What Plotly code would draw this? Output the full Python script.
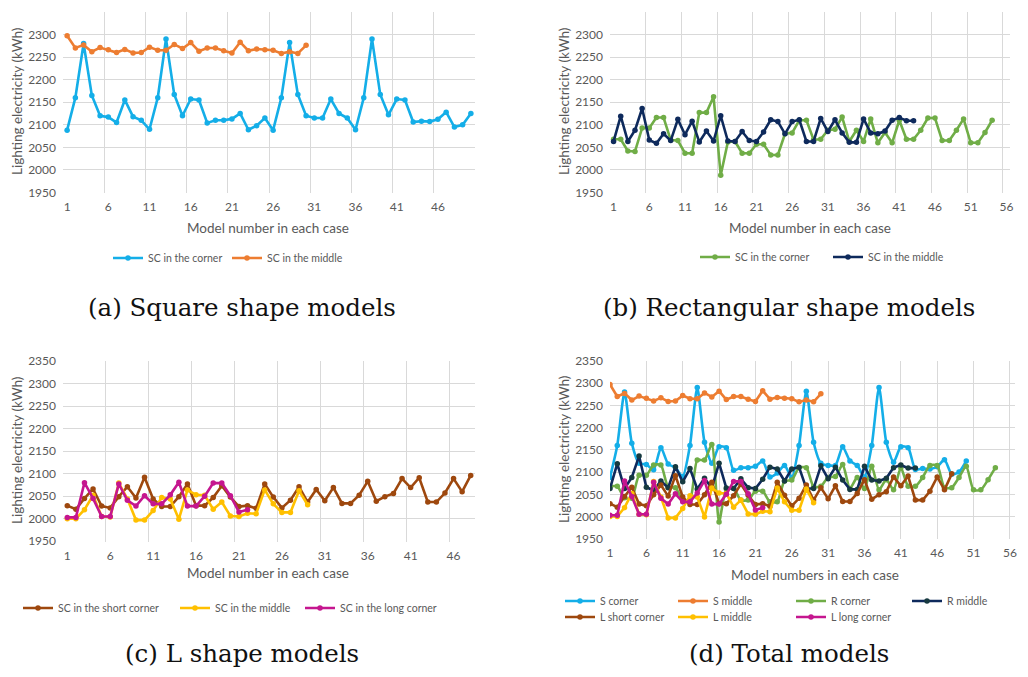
import plotly.graph_objects as go

# The page body has an 8px default margin, so the figure is drawn 8px in
# from the window edge; sizes and coordinates below compensate for that.
PAGE_OFF = 8
W, H = 1028 - 2 * PAGE_OFF, 677 - 2 * PAGE_OFF

# ---------------- data ----------------
square_corner = [2088, 2160, 2280, 2165, 2120, 2117, 2105, 2155, 2118, 2110,
                 2090, 2160, 2290, 2167, 2120, 2157, 2155, 2104, 2110, 2110,
                 2113, 2125, 2089, 2098, 2115, 2088, 2160, 2282, 2167, 2120,
                 2115, 2115, 2157, 2125, 2115, 2089, 2160, 2290, 2167, 2122,
                 2157, 2155, 2106, 2108, 2107, 2112, 2128, 2095, 2100, 2125]
square_middle = [2297, 2270, 2277, 2262, 2271, 2266, 2260, 2267, 2259, 2260,
                 2272, 2265, 2265, 2278, 2269, 2282, 2263, 2270, 2270, 2264,
                 2259, 2283, 2264, 2268, 2266, 2265, 2258, 2262, 2258, 2276]
rect_corner = [2068, 2068, 2042, 2041, 2093, 2093, 2116, 2116, 2066, 2065,
               2037, 2037, 2127, 2127, 2162, 1988, 2062, 2063, 2037, 2037,
               2057, 2057, 2033, 2033, 2080, 2082, 2110, 2110, 2067, 2068,
               2088, 2090, 2117, 2063, 2088, 2063, 2113, 2060, 2083, 2060,
               2110, 2068, 2068, 2088, 2115, 2115, 2065, 2065, 2088, 2113,
               2060, 2060, 2083, 2110]
rect_middle = [2063, 2119, 2063, 2088, 2136, 2066, 2059, 2080, 2065, 2112,
               2078, 2108, 2062, 2086, 2064, 2120, 2064, 2063, 2085, 2065,
               2063, 2084, 2111, 2107, 2080, 2107, 2111, 2063, 2063, 2114,
               2085, 2111, 2082, 2061, 2061, 2113, 2082, 2080, 2086, 2110,
               2116, 2109, 2109]
l_short_corner = [2029, 2021, 2045, 2066, 2028, 2024, 2049, 2071, 2046, 2092,
                  2044, 2027, 2027, 2049, 2077, 2029, 2029, 2047, 2073, 2048,
                  2027, 2029, 2023, 2077, 2048, 2024, 2041, 2071, 2037, 2065,
                  2040, 2069, 2034, 2034, 2052, 2083, 2039, 2049, 2056, 2089,
                  2069, 2091, 2037, 2037, 2057, 2089, 2060, 2096]
l_middle = [2000, 2000, 2020, 2052, 2005, 2004, 2079, 2044, 1997, 1997,
            2018, 2047, 2044, 1999, 2064, 2053, 2052, 2021, 2037, 2006,
            2005, 2012, 2011, 2064, 2033, 2014, 2014, 2062, 2031]
l_long_corner = [2003, 2003, 2080, 2045, 2005, 2005, 2077, 2041, 2028, 2051,
                 2033, 2033, 2053, 2081, 2028, 2028, 2050, 2079, 2079, 2051,
                 2015, 2020]

n_cat_a, n_cat_b, n_cat_c = 50, 56, 48
y_ticks = [1950, 2000, 2050, 2100, 2150, 2200, 2250, 2300, 2350]

# ---------------- styling ----------------
FONT = "Lato"
TXT = "#595959"
GRID = "#D9D9D9"
C_SC, C_SM = "#14AEE8", "#ED7D31"
C_RC, C_RM = "#70AD47", "#0E2A5C"
C_LS, C_LM, C_LL = "#9E480E", "#FFC000", "#C5168F"


def px(x):
    return (x - PAGE_OFF) / W


def py(y):
    return 1 - (y - PAGE_OFF) / H


fig = go.Figure()
legends = {}
legfont = dict(family=FONT, size=10.5, color=TXT)


def add(xa, ya, vals, name, color, text_x, text_y, shape="linear", mcolor=None):
    lid = "legend" if not legends else "legend%d" % (len(legends) + 1)
    legends[lid] = dict(x=px(text_x - 45), y=py(text_y), xanchor="left",
                        yanchor="middle", orientation="h", font=legfont,
                        bgcolor="rgba(0,0,0,0)", itemwidth=30)
    fig.add_trace(go.Scatter(
        x=list(range(1, len(vals) + 1)), y=vals, name=name, mode="lines+markers",
        line=dict(color=color, width=2.6, shape=shape, smoothing=0.6),
        marker=dict(color=mcolor or color, size=5.5),
        xaxis=xa, yaxis=ya, legend=lid))


# panel a
add("x", "y", square_corner, "SC in the corner", C_SC, 153, 258)
add("x", "y", square_middle, "SC in the middle", C_SM, 272, 258)
# panel b
add("x2", "y2", rect_corner, "SC in the corner", C_RC, 740, 257)
add("x2", "y2", rect_middle, "SC in the middle", C_RM, 873, 257)
# panel c
add("x3", "y3", l_short_corner, "SC in the short corner", C_LS, 63, 608)
add("x3", "y3", l_middle, "SC in the middle", C_LM, 220, 608)
add("x3", "y3", l_long_corner, "SC in the long corner", C_LL, 345, 608)
# panel d
add("x4", "y4", square_corner, "S corner", C_SC, 605, 601, shape="spline")
add("x4", "y4", square_middle, "S middle", C_SM, 718, 601)
add("x4", "y4", rect_corner, "R corner", C_RC, 836, 601, shape="spline")
add("x4", "y4", rect_middle, "R middle", C_RM, 952, 601, mcolor="#173A40")
add("x4", "y4", l_short_corner, "L short corner", C_LS, 605, 617)
add("x4", "y4", l_middle, "L middle", C_LM, 718, 617)
add("x4", "y4", l_long_corner, "L long corner", C_LL, 836, 617)

tickfont = dict(family=FONT, size=12, color=TXT)


def xcat(domain, anchor, n):
    return dict(domain=domain, anchor=anchor, range=[0.5, n + 0.5],
                tickmode="array", tickvals=list(range(1, n + 1, 5)),
                showgrid=False, zeroline=False, showline=False, ticks="",
                ticklabelstandoff=5, tickfont=tickfont,
                minor=dict(tickmode="array",
                           tickvals=[0.5 + 5 * k for k in range(n // 5 + 1)],
                           showgrid=True, gridcolor=GRID, gridwidth=1, ticks=""))


def yax(domain, anchor):
    return dict(domain=domain, anchor=anchor, range=[1949.5, 2350.5],
                tickmode="array", tickvals=y_ticks, showgrid=True,
                gridcolor=GRID, gridwidth=1, zeroline=False, showline=False,
                ticks="", ticklabelstandoff=6, tickfont=tickfont)


xa_dom_l = [px(63), px(475)]
xa_dom_r = [px(610), px(1010)]
ya_dom_t = [py(192.7), py(11.7)]
ya_dom_b = [py(541.5), py(360.7)]

fig.update_layout(
    width=W, height=H, margin=dict(l=0, r=0, t=0, b=0, autoexpand=False),
    paper_bgcolor="white", plot_bgcolor="white",
    xaxis=xcat(xa_dom_l, "y", n_cat_a),
    yaxis=yax(ya_dom_t, "x"),
    xaxis2=xcat(xa_dom_r, "y2", n_cat_b),
    yaxis2=yax(ya_dom_t, "x2"),
    xaxis3=xcat(xa_dom_l, "y3", n_cat_c),
    yaxis3=yax(ya_dom_b, "x3"),
    xaxis4=dict(domain=[px(610), px(1015)], anchor="y4", range=[1, 56.7],
                tickmode="array", tickvals=list(range(1, 57, 5)),
                showgrid=True, gridcolor=GRID, zeroline=False, showline=False,
                ticks="", ticklabelstandoff=5, tickfont=tickfont),
    yaxis4=yax([py(539), py(360.7)], "x4"),
    showlegend=True,
    **legends,
)

ann = []


def text(x, y, s, size, family=FONT, color=TXT, angle=0):
    ann.append(dict(x=px(x), y=py(y), xref="paper", yref="paper", text=s,
                    showarrow=False, textangle=angle,
                    font=dict(family=family, size=size, color=color),
                    xanchor="center", yanchor="middle"))


# axis titles
text(268, 228, "Model number in each case", 13.5)
text(810, 228, "Model number in each case", 13.5)
text(268, 573, "Model number in each case", 13.5)
text(815, 575, "Model numbers in each case", 13.5)
for xx, yy in [(17, 102), (564, 102), (17, 451), (564, 450)]:
    text(xx, yy, "Lighting electricity (kWh)", 13.5, angle=-90)

# captions
SERIF = "DejaVu Serif"
CAP = "#111111"
text(242, 307, "(a) Square shape models", 24.5, family=SERIF, color=CAP)
text(789, 307, "(b) Rectangular shape models", 24.5, family=SERIF, color=CAP)
text(242, 653, "(c) L shape models", 24.5, family=SERIF, color=CAP)
text(789, 653, "(d) Total models", 24.5, family=SERIF, color=CAP)

fig.update_layout(annotations=ann)

fig.write_html("out.html")
